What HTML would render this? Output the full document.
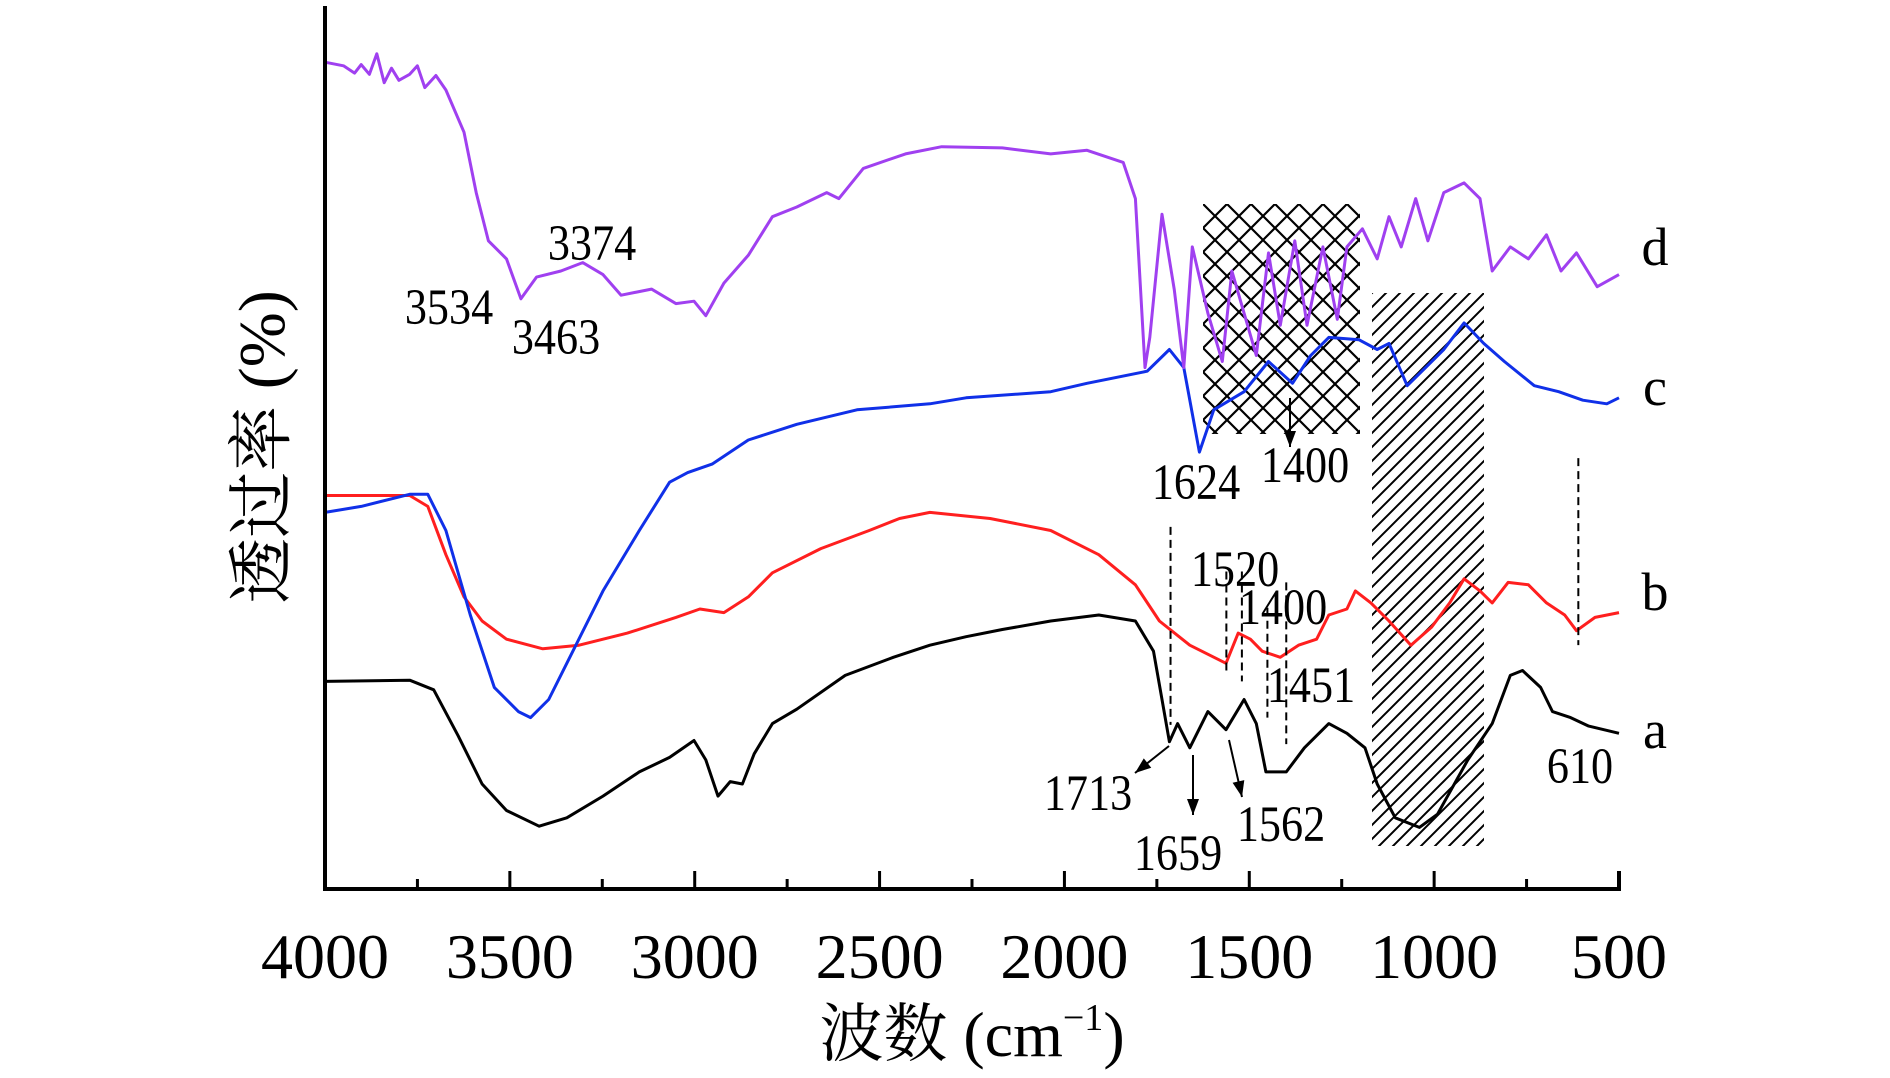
<!DOCTYPE html>
<html><head><meta charset="utf-8"><style>
html,body{margin:0;padding:0;background:#fff;}
svg{display:block;}
text{font-family:"Liberation Serif","Noto Serif CJK SC","Noto Sans CJK SC",serif;fill:#000;}
</style></head><body>
<svg id="chart" width="1890" height="1078" viewBox="0 0 1890 1078" xmlns="http://www.w3.org/2000/svg">
<defs>
<pattern id="cross" patternUnits="userSpaceOnUse" width="24" height="24" x="1203" y="204">
<path d="M0,0 L24,24 M24,0 L0,24 M-12,12 L12,-12 M12,36 L36,12 M-12,12 L12,36 M12,-12 L36,12" stroke="#000" stroke-width="2.2" fill="none"/>
</pattern>
<pattern id="diag" patternUnits="userSpaceOnUse" width="14" height="14" x="1372" y="293">
<path d="M-2,16 L16,-2 M-9,9 L9,-9 M5,23 L23,5" stroke="#000" stroke-width="2" fill="none"/>
</pattern>
</defs>
<g id="plot"></g>
</svg>
<script>
// Data (wavenumber cm-1, transmittance arbitrary units)
const xTicks = [4000,3500,3000,2500,2000,1500,1000,500];
const xTickLabels = ["4000","3500","3000","2500","2000","1500","1000","500"];
const aW = [4000,3771,3706,3640,3575,3509,3421,3346,3248,3150,3068,3002,2970,2937,2904,2871,2839,2790,2724,2593,2463,2364,2266,2168,2037,1907,1808,1759,1736,1716,1694,1661,1612,1563,1514,1481,1455,1400,1351,1285,1236,1187,1154,1105,1040,991,909,843,794,761,712,680,631,582,500];
const aV = [172,173,165,127,87,65,52,59,77,97,109,123,107,77,89,87,112,137,149,177,192,202,209,215,222,227,222,197,157,122,137,117,147,132,157,137,97,97,117,137,129,117,87,59,51,62,107,137,177,181,167,147,142,135,129];
const bW = [4000,3771,3722,3673,3624,3575,3509,3411,3313,3182,3051,2986,2921,2855,2790,2659,2528,2446,2364,2201,2037,1907,1808,1743,1661,1563,1530,1497,1465,1416,1367,1318,1285,1236,1213,1171,1122,1063,1007,958,919,876,843,800,745,696,647,615,565,500];
const bV = [326,326,317,277,242,222,207,199,202,212,225,232,229,242,262,282,297,307,312,307,297,277,252,222,202,187,212,207,197,192,202,207,227,232,247,237,222,202,217,237,257,247,237,254,252,237,227,214,225,229];
const cW = [4000,3902,3771,3722,3673,3607,3542,3477,3444,3395,3346,3248,3150,3068,3019,2953,2855,2724,2561,2364,2266,2037,1939,1776,1716,1677,1635,1596,1514,1448,1383,1334,1285,1203,1154,1122,1073,1023,974,919,866,810,729,663,598,533,500];
const cV = [312,317,327,327,297,227,167,147,142,157,187,247,297,337,345,352,372,385,397,402,407,412,419,429,447,432,362,397,412,437,419,442,457,455,447,452,417,432,447,469,452,437,417,412,405,402,407];
const dW = [4000,3950,3920,3902,3880,3860,3840,3820,3800,3771,3750,3730,3700,3673,3624,3591,3558,3509,3470,3428,3362,3303,3248,3199,3117,3051,3002,2970,2921,2855,2790,2724,2643,2610,2544,2430,2332,2168,2037,1939,1841,1808,1782,1769,1736,1703,1677,1654,1612,1573,1547,1514,1481,1448,1416,1377,1344,1301,1262,1236,1194,1154,1122,1089,1050,1017,974,919,876,843,794,745,696,657,615,559,500];
const dV = [685,682,676,683,675,692,668,680,670,675,682,664,674,662,627,577,537,522,489,507,512,519,509,492,497,485,487,475,502,525,557,565,577,572,597,609,615,614,609,612,602,572,432,457,559,497,432,532,477,437,512,477,442,527,467,537,467,532,472,532,547,522,557,532,572,537,577,585,572,512,532,522,542,512,527,499,509];

const X0=325, X1=1619, Y0=889, YTOP=6;
const xs = w => X0 + (4000 - w) / 3500 * (X1 - X0);
const ys = v => Y0 - v * 1.207;
const NS="http://www.w3.org/2000/svg";
const g=document.getElementById('plot');
function mk(tag, attrs, parent){const e=document.createElementNS(NS,tag);for(const k in attrs)e.setAttribute(k,attrs[k]);(parent||g).appendChild(e);return e;}

let r1=mk('rect',{x:1203,y:204,width:157,height:230,fill:'url(#cross)'});


let r2=mk('rect',{x:1372,y:293,width:112,height:553,fill:'url(#diag)'});



function series(W,V,color,name){
  let d=W.map((w,i)=>(i?'L':'M')+xs(w).toFixed(1)+','+ys(V[i]).toFixed(1)).join(' ');
  const p=mk('path',{d:d,fill:'none',stroke:color,'stroke-width':3,'stroke-linejoin':'round'});
  
  
}
series(aW,aV,'#000000','series-a');
series(bW,bV,'#ff1f1f','series-b');
series(cW,cV,'#1030e8','series-c');
series(dW,dV,'#a040f0','series-d');

let ax=mk('path',{d:`M${X0},${YTOP} L${X0},${Y0} L${X1},${Y0} L${X1},${Y0-18}`,fill:'none',stroke:'#000','stroke-width':4});


for(let w=3750; w>500; w-=250){
  const major = (w%500===0);
  const t=mk('line',{x1:xs(w),x2:xs(w),y1:Y0,y2:Y0-(major?18:10),stroke:'#000','stroke-width':3});
  
  
}
xTicks.forEach((w,i)=>{
  const t=mk('text',{x:xs(w),y:978,'font-size':64,'text-anchor':'middle'});
  t.textContent=xTickLabels[i];
  
  
});

const dashes=[[1713,300,136],[1562,263,178],[1520,263,172],[1451,233,142],[1400,254,120],[610,357,202]];
dashes.forEach(dd=>{
  const l=mk('line',{x1:xs(dd[0]),x2:xs(dd[0]),y1:ys(dd[1]),y2:ys(dd[2]),stroke:'#000','stroke-width':2,'stroke-dasharray':'8,5'});
  
  
});

function arrow(x1,y1,x2,y2){
  const a=mk('line',{x1:x1,y1:y1,x2:x2,y2:y2,stroke:'#000','stroke-width':2});
  
  
  const ang=Math.atan2(y2-y1,x2-x1),L=16,wd=6;
  const bx=x2-L*Math.cos(ang),by=y2-L*Math.sin(ang);
  const px=-Math.sin(ang)*wd,py=Math.cos(ang)*wd;
  const h=mk('polygon',{points:`${x2},${y2} ${bx+px},${by+py} ${bx-px},${by-py}`,fill:'#000'});
  
  
}
arrow(1169,746,1135,773);
arrow(1193,755,1193,815);
arrow(1229,740,1242,797);
arrow(1290,398,1290,447);

const labels=[["3374",592,260],["3534",449,324],["3463",556,354],["1624",1196,499],["1400",1305,482],["1520",1235,586],["1400",1283,624],["1451",1311,702],["1713",1088,810],["1659",1178,870],["1562",1281,841],["610",1580,783]];
labels.forEach(l=>{
  const t=mk('text',{x:0,y:0,'font-size':48,'text-anchor':'middle',transform:`translate(${l[1]},${l[2]}) scale(0.92,1.05)`});
  t.textContent=l[0];
  
  
});
const letters=[["d",265],["c",405],["b",610],["a",748]];
letters.forEach(l=>{
  const t=mk('text',{x:1655,y:l[1],'font-size':54,'text-anchor':'middle'});
  t.textContent=l[0];
  
  
});

const xt=mk('text',{x:972,y:1056,'font-size':64,'text-anchor':'middle'});
xt.innerHTML='波数 (cm<tspan dy="-26" font-size="38">−1</tspan><tspan dy="26">)</tspan>';


const yt=mk('text',{x:0,y:0,'font-size':66,'text-anchor':'middle',transform:'translate(284,447) rotate(-90)'});
yt.textContent='透过率 (%)';


</script>
</body></html>
